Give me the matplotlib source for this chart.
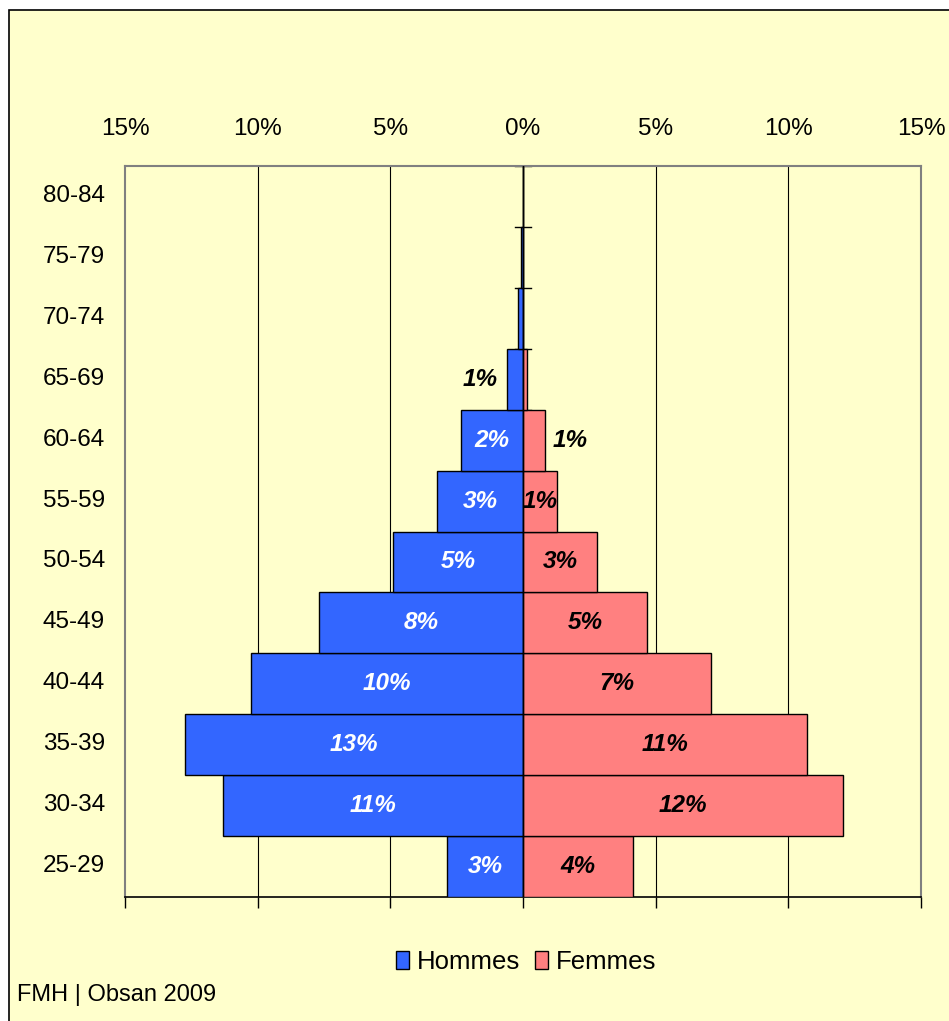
import matplotlib.pyplot as plt
from matplotlib.patches import Rectangle, Patch
from matplotlib.ticker import FuncFormatter
from matplotlib.transforms import ScaledTranslation

plt.rcParams['font.family'] = ['Liberation Sans', 'DejaVu Sans']

# age groups, bottom to top
ages = ['25-29', '30-34', '35-39', '40-44', '45-49', '50-54',
        '55-59', '60-64', '65-69', '70-74', '75-79', '80-84']
# share of physicians in percent
hommes = [2.86, 11.3, 12.74, 10.25, 7.69, 4.9, 3.24, 2.34, 0.6, 0.17, 0.08, 0.0]
femmes = [4.15, 12.06, 10.7, 7.09, 4.67, 2.79, 1.28, 0.83, 0.15, 0.0, 0.0, 0.0]

c_h = '#3366FF'
c_f = '#FF8080'
bg = '#FFFFCC'

fig = plt.figure(figsize=(9.49, 10.21), dpi=100)
fig.patch.set_facecolor('white')
# chart area background with border
fig.patches.append(Rectangle((9/949, -0.01), 1.0, 1 - 10/1021 + 0.01,
                             transform=fig.transFigure, facecolor=bg,
                             edgecolor='black', linewidth=1.2, zorder=-10))

ax = fig.add_axes([125/949, 1 - 897/1021, (921-125)/949, (897-166)/1021])
ax.set_facecolor(bg)

y = list(range(len(ages)))
ax.barh(y, [-v for v in hommes], height=1.0, color=c_h, edgecolor='black',
        linewidth=1, zorder=3, label='Hommes')
ax.barh(y, femmes, height=1.0, color=c_f, edgecolor='black',
        linewidth=1, zorder=3, label='Femmes')

ax.set_xlim(-15, 15)
ax.set_ylim(-0.5, len(ages) - 0.5)

# vertical grid
for gx in [-10, -5, 5, 10]:
    ax.axvline(gx, color='black', linewidth=0.8, zorder=1)

# center axis with category ticks
ax.axvline(0, color='black', linewidth=1, zorder=4)
for i in range(len(ages) + 1):
    ax.plot([-0.3, 0.3], [i - 0.5, i - 0.5], color='black', linewidth=1, zorder=2)

# value labels
lab_font = dict(fontsize=17.5, fontweight='bold', fontstyle='italic', va='center')
for i in range(len(ages)):
    h = hommes[i]
    if round(h) >= 1:
        if h < 1.0:
            ax.text(-h - 0.35, i, f'{round(h)}%', ha='right', color='black', zorder=5, **lab_font)
        else:
            ax.text(-h / 2, i, f'{round(h)}%', ha='center', color='white', zorder=5, **lab_font)
    f = femmes[i]
    if round(f) >= 1:
        if f < 1.0:
            ax.text(f + 0.3, i, f'{round(f)}%', ha='left', color='black', zorder=5, **lab_font)
        else:
            ax.text(f / 2, i, f'{round(f)}%', ha='center', color='black', zorder=5, **lab_font)

ax.set_xticks([-15, -10, -5, 0, 5, 10, 15])
ax.xaxis.set_major_formatter(FuncFormatter(lambda v, p: f'{abs(int(v))}%'))
ax.tick_params(axis='x', top=False, labeltop=True, bottom=True, labelbottom=False,
               direction='out', length=8, width=1, color='black', labelsize=17.5, pad=11)
ax.set_yticks(y)
ax.set_yticklabels(ages)
ax.tick_params(axis='y', left=False, labelsize=17.5, pad=11)
for lbl in ax.get_yticklabels():
    lbl.set_transform(lbl.get_transform() + ScaledTranslation(0, 3/100, fig.dpi_scale_trans))

for s in ['left', 'top', 'right']:
    ax.spines[s].set_color('#808080')
    ax.spines[s].set_linewidth(1.5)
ax.spines['bottom'].set_color('black')
ax.spines['bottom'].set_linewidth(1.2)

handles = [Patch(facecolor=c_h, edgecolor='black', label='Hommes'),
           Patch(facecolor=c_f, edgecolor='black', label='Femmes')]
fig.legend(handles=handles, loc='center', bbox_to_anchor=(526/949, 1 - 962/1021),
           ncol=2, frameon=False, fontsize=18.5, handlelength=0.5, handleheight=0.65,
           handletextpad=0.3, columnspacing=0.6)

fig.text(17/949, 1 - 995/1021, 'FMH | Obsan 2009', fontsize=17, va='center', ha='left')

fig.savefig('out.png', dpi=100, facecolor=fig.get_facecolor())
